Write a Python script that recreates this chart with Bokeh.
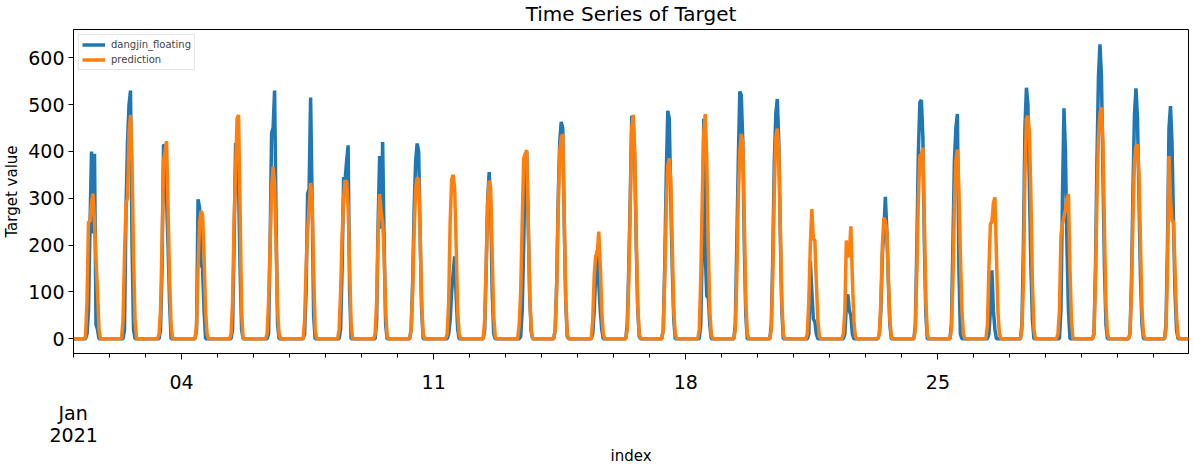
from bokeh.plotting import figure
from bokeh.models import FixedTicker, LinearAxis, Range1d, ColumnDataSource, Title
from bokeh.embed import file_html
from bokeh.resources import INLINE

FONT = "DejaVu Sans"

# ---------------- data ----------------
series_names = ["dangjin_floating", "prediction"]
days = [f"2021-01-{d:02d}" for d in range(1, 32)]
window_first_hour = 7   # each daily list holds hours 07..18, other hours are 0

actual_by_day = [
    [0, 0, 10, 60, 240, 400, 225, 395, 30, 20, 0, 0],
    [0, 0, 0, 20, 280, 420, 500, 530, 200, 20, 0, 0],
    [0, 0, 0, 20, 150, 415, 410, 300, 200, 80, 0, 0],
    [0, 0, 0, 20, 298, 280, 160, 150, 60, 0, 0, 0],
    [0, 0, 0, 20, 200, 418, 320, 330, 150, 20, 0, 0],
    [0, 0, 0, 10, 200, 440, 450, 530, 250, 30, 0, 0],
    [0, 0, 0, 10, 100, 310, 320, 515, 300, 50, 0, 0],
    [0, 0, 0, 20, 150, 345, 340, 380, 413, 100, 0, 0],
    [0, 0, 0, 40, 250, 390, 235, 420, 200, 30, 0, 0],
    [0, 0, 20, 120, 280, 380, 417, 400, 220, 60, 0, 0],
    [0, 0, 0, 10, 40, 100, 140, 176, 90, 20, 0, 0],
    [0, 0, 0, 20, 150, 300, 356, 280, 100, 10, 0, 0],
    [0, 0, 0, 5, 60, 200, 380, 400, 250, 90, 15, 0],
    [0, 0, 20, 120, 300, 420, 463, 450, 250, 80, 5, 0],
    [0, 0, 0, 10, 60, 140, 188, 120, 60, 20, 0, 0],
    [0, 0, 30, 150, 300, 476, 460, 380, 200, 60, 5, 0],
    [0, 0, 20, 160, 350, 487, 470, 300, 150, 40, 0, 0],
    [0, 0, 0, 30, 200, 470, 180, 90, 90, 30, 0, 0],
    [0, 0, 30, 200, 380, 528, 520, 420, 200, 50, 0, 0],
    [0, 0, 30, 180, 380, 480, 512, 420, 220, 60, 0, 0],
    [0, 0, 0, 10, 166, 100, 42, 37, 10, 0, 0, 0],
    [0, 0, 0, 10, 70, 95, 60, 50, 10, 0, 0, 0],
    [0, 0, 10, 60, 180, 230, 303, 230, 120, 30, 0, 0],
    [0, 0, 30, 200, 400, 505, 510, 430, 200, 50, 0, 0],
    [0, 0, 30, 200, 380, 450, 480, 150, 10, 0, 0, 0],
    [0, 0, 0, 10, 60, 146, 60, 20, 0, 0, 0, 0],
    [0, 30, 200, 450, 536, 500, 320, 150, 40, 0, 0, 0],
    [0, 0, 0, 60, 300, 492, 400, 200, 60, 0, 0, 0],
    [0, 10, 150, 380, 560, 629, 560, 350, 150, 30, 0, 0],
    [0, 10, 120, 320, 480, 535, 470, 300, 130, 30, 0, 0],
    [0, 30, 200, 450, 497, 420, 250, 100, 20, 0, 0, 0],
]

prediction_by_day = [
    [0, 5, 80, 250, 250, 290, 310, 250, 170, 100, 20, 0],
    [0, 0, 40, 180, 290, 300, 440, 478, 380, 180, 40, 0],
    [0, 0, 10, 60, 200, 380, 400, 422, 280, 130, 30, 0],
    [0, 0, 0, 30, 150, 250, 273, 265, 180, 60, 10, 0],
    [0, 0, 10, 80, 250, 360, 470, 478, 280, 60, 0, 0],
    [0, 0, 10, 80, 200, 320, 367, 330, 200, 60, 10, 0],
    [0, 0, 0, 40, 150, 230, 280, 333, 300, 150, 20, 0],
    [0, 0, 20, 100, 220, 300, 338, 335, 280, 150, 30, 0],
    [0, 0, 10, 80, 220, 309, 270, 250, 180, 60, 5, 0],
    [0, 0, 20, 100, 230, 320, 344, 340, 220, 80, 10, 0],
    [0, 0, 10, 80, 250, 340, 350, 320, 200, 60, 10, 0],
    [0, 0, 0, 40, 160, 290, 338, 320, 180, 50, 5, 0],
    [0, 0, 30, 100, 250, 385, 395, 403, 250, 100, 20, 0],
    [0, 0, 20, 110, 280, 400, 430, 437, 260, 90, 10, 0],
    [0, 0, 0, 40, 137, 178, 180, 229, 160, 60, 10, 0],
    [0, 0, 20, 120, 280, 450, 478, 400, 220, 70, 10, 0],
    [0, 0, 20, 130, 280, 370, 385, 340, 200, 60, 10, 0],
    [0, 0, 20, 130, 300, 440, 480, 380, 200, 60, 10, 0],
    [0, 0, 20, 130, 300, 400, 437, 420, 250, 80, 10, 0],
    [0, 0, 20, 140, 320, 430, 449, 400, 240, 80, 10, 0],
    [0, 0, 10, 80, 200, 277, 214, 210, 120, 40, 5, 0],
    [0, 0, 10, 60, 210, 175, 180, 240, 130, 40, 5, 0],
    [0, 0, 10, 80, 200, 259, 250, 230, 130, 40, 5, 0],
    [0, 0, 20, 150, 300, 390, 395, 408, 250, 80, 10, 0],
    [0, 0, 20, 120, 280, 380, 404, 320, 180, 60, 10, 0],
    [0, 0, 30, 150, 245, 250, 290, 302, 180, 60, 10, 0],
    [0, 20, 120, 350, 470, 476, 440, 300, 120, 20, 0, 0],
    [0, 10, 60, 220, 245, 260, 275, 300, 309, 150, 40, 0],
    [0, 10, 120, 300, 430, 480, 494, 420, 230, 70, 10, 0],
    [0, 10, 100, 260, 380, 410, 415, 350, 200, 60, 10, 0],
    [0, 20, 150, 390, 300, 252, 250, 150, 50, 5, 0, 0],
]

major_tick_days = ["2021-01-04", "2021-01-11", "2021-01-18", "2021-01-25"]
major_tick_labels = ["04", "11", "18", "25"]
month_label = "Jan"
year_label = "2021"
x_label = "index"
y_label = "Target value"
y_ticks = [0, 100, 200, 300, 400, 500, 600]

# ---------------- hourly series built from the daily lists ----------------
hours, actual, prediction = [], [], []
for d in range(len(days)):
    for h in range(24):
        hours.append(d * 24 + h)
        k = h - window_first_hour
        if 0 <= k < len(actual_by_day[d]):
            actual.append(actual_by_day[d][k])
            prediction.append(prediction_by_day[d][k])
        else:
            actual.append(0)
            prediction.append(0)

src = ColumnDataSource(dict(index=hours, actual=actual, prediction=prediction))

ymax = max(max(actual), max(prediction))
pad = 0.05 * ymax

p = figure(width=1194, height=472, output_backend="svg", toolbar_location=None,
           x_range=Range1d(0, hours[-1]), y_range=Range1d(-pad, ymax + pad),
           min_border_left=72, min_border_right=6, min_border_top=0,
           min_border_bottom=0, x_axis_location=None)

p.title.text = "Time Series of Target"
p.title.align = "center"
p.title.vertical_align = "top"
p.title.text_font = FONT
p.title.text_font_size = "20px"
p.title.text_font_style = "normal"
p.title.text_color = "black"
p.title.standoff = 3

p.line("index", "actual", source=src, color="#1f77b4", line_width=3.5,
       legend_label=series_names[0])
p.line("index", "prediction", source=src, color="#ff7f0e", line_width=3.5,
       legend_label=series_names[1])

p.xgrid.visible = False
p.ygrid.visible = False
p.outline_line_color = "black"
p.outline_line_width = 1
p.background_fill_color = "white"
p.border_fill_color = "white"

# y axis
ya = p.yaxis[0]
ya.ticker = FixedTicker(ticks=y_ticks, minor_ticks=[])
ya.major_label_text_font = FONT
ya.major_label_text_font_size = "19px"
ya.major_label_text_color = "black"
ya.major_tick_out = 5
ya.major_tick_in = 0
ya.minor_tick_out = 0
ya.minor_tick_in = 0
ya.major_label_standoff = 4
ya.axis_line_color = "black"
ya.major_tick_line_color = "black"
ya.axis_label = y_label
ya.axis_label_text_font = FONT
ya.axis_label_text_font_size = "15px"
ya.axis_label_text_font_style = "normal"
ya.axis_label_text_color = "black"
ya.axis_label_standoff = 4

# x axis: day ticks
day_index = {d: i for i, d in enumerate(days)}
major_pos = [day_index[d] * 24 for d in major_tick_days]
minor_pos = [i * 24 for i in range(len(days)) if i * 24 not in major_pos]
xa = LinearAxis(ticker=FixedTicker(ticks=major_pos, minor_ticks=minor_pos))
xa.major_label_overrides = {pos: lab for pos, lab in zip(major_pos, major_tick_labels)}
xa.major_label_text_font = FONT
xa.major_label_text_font_size = "19px"
xa.major_label_text_color = "black"
xa.major_tick_out = 6
xa.major_tick_in = 0
xa.minor_tick_out = 4
xa.minor_tick_in = 0
xa.major_label_standoff = 15
xa.axis_line_color = "black"
xa.major_tick_line_color = "black"
xa.minor_tick_line_color = "black"
p.add_layout(xa, "below")

# month / year label under the first day, then the x axis title
def caption(text, size, align, offset, standoff):
    return Title(text=text, align=align, offset=offset, standoff=standoff,
                 text_font=FONT, text_font_size=size, text_font_style="normal",
                 text_color="black")

p.add_layout(caption(month_label, "19px", "left", -15, 16), "below")
p.add_layout(caption(year_label, "19px", "left", -24, -11), "below")
p.add_layout(caption(x_label, "15px", "center", 0, 16), "below")

# legend
lg = p.legend[0]
lg.location = "top_left"
lg.margin = 5
lg.padding = 3
lg.spacing = 2
lg.label_text_font = FONT
lg.label_text_font_size = "10px"
lg.label_height = 13
lg.glyph_height = 13
lg.glyph_width = 23
lg.label_standoff = 6
lg.border_line_color = "#cccccc"
lg.border_line_width = 1
lg.background_fill_color = "white"
lg.background_fill_alpha = 0.8

open("out.html", "w").write(file_html(p, INLINE))
